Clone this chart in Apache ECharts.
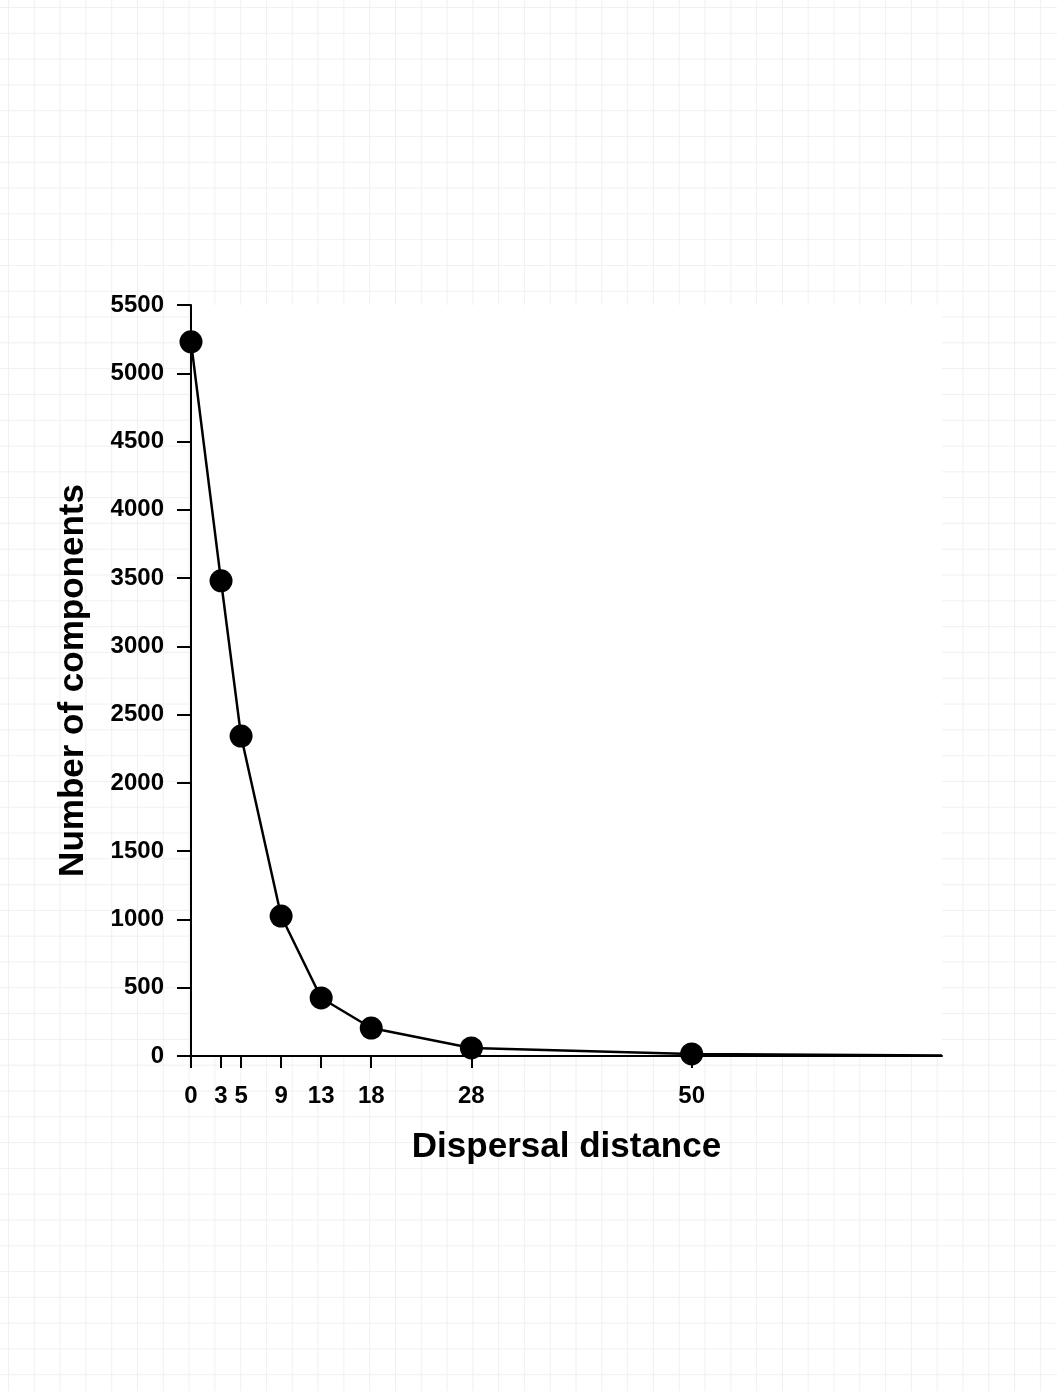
<!DOCTYPE html>
<html>
<head>
<meta charset="utf-8">
<script src="https://cdn.jsdelivr.net/npm/echarts@6/dist/echarts.min.js"></script>
<style>
  html, body { margin: 0; padding: 0; }
  body {
    width: 1057px; height: 1391px;
    background-color: #fff;
    background-image:
      linear-gradient(to right, #f0f0f0 1px, transparent 1px),
      linear-gradient(to bottom, #f0f0f0 1px, transparent 1px);
    background-size: 25.8px 25.8px;
    background-position: 8px 7px;
  }
  #chart { width: 1057px; height: 1391px; }
</style>
</head>
<body>
<div id="chart"></div>
<script>
// dispersal distance vs number of components
const distances = [0, 3, 5, 9, 13, 18, 28, 50, 75];
const components = [5230, 3480, 2343, 1025, 425, 205, 59, 15, 3];
const xTicks = [0, 3, 5, 9, 13, 18, 28, 50];

const chart = echarts.init(document.getElementById('chart'));
const font = '"Liberation Sans", Arial, sans-serif';

const points = distances.map((d, i) => {
  const p = { value: [d, components[i]] };
  if (!xTicks.includes(d)) p.symbol = 'none';
  return p;
});

chart.setOption({
  animation: false,
  grid: {
    show: true,
    left: 191,
    top: 305,
    right: 115,
    bottom: 335,
    backgroundColor: '#fff',
    borderWidth: 0
  },
  xAxis: {
    type: 'value',
    min: 0,
    max: 75,
    name: 'Dispersal distance',
    nameLocation: 'middle',
    nameGap: 74,
    nameTextStyle: { fontFamily: font, fontWeight: 'bold', fontSize: 35, color: '#000' },
    axisLine: { lineStyle: { color: '#000', width: 2 } },
    axisTick: { show: true, length: 12, lineStyle: { color: '#000', width: 2 }, customValues: xTicks },
    axisLabel: { fontFamily: font, fontWeight: 'bold', fontSize: 24, color: '#000', margin: 28, customValues: xTicks },
    splitLine: { show: false }
  },
  yAxis: {
    type: 'value',
    min: 0,
    max: 5500,
    interval: 500,
    name: 'Number of components',
    nameLocation: 'middle',
    nameRotate: 90,
    nameGap: 100,
    nameTextStyle: { fontFamily: font, fontWeight: 'bold', fontSize: 35, color: '#000' },
    axisLine: { show: true, lineStyle: { color: '#000', width: 2 } },
    axisTick: { show: true, length: 14, lineStyle: { color: '#000', width: 2 } },
    axisLabel: { fontFamily: font, fontWeight: 'bold', fontSize: 24, color: '#000', margin: 27, formatter: v => String(v) },
    splitLine: { show: false }
  },
  series: [{
    type: 'line',
    data: points,
    symbol: 'circle',
    symbolSize: 23,
    itemStyle: { color: '#000' },
    lineStyle: { color: '#000', width: 2.5 },
    z: 3
  }]
});
</script>
</body>
</html>
